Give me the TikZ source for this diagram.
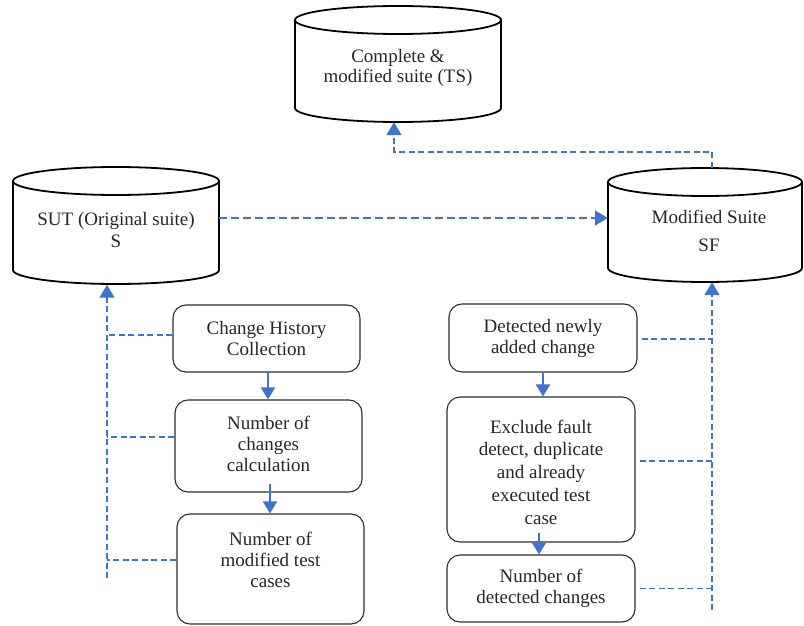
\documentclass[tikz,border=0pt]{standalone}
\usepackage{fontspec}
\setmainfont{Liberation Serif}
\usetikzlibrary{arrows.meta}
\definecolor{flowblue}{RGB}{68,114,196}
\definecolor{edgegray}{RGB}{45,45,45}
\begin{document}
\begin{tikzpicture}[x=1pt,y=-1pt,
 box/.style={draw=edgegray, line width=1.1pt, rounded corners=13pt, inner sep=0pt},
 lbl/.style={align=center, font=\fontsize{19}{21}\selectfont, text=black!85, inner sep=0pt},
 cylline/.style={draw=black, line width=1.8pt},
 area/.style={draw=none, inner sep=0pt},
 flow/.style={draw=flowblue, line width=2.2pt, -{Triangle[length=12pt,width=14pt]}},
 link/.style={draw=flowblue, line width=1.8pt, dash pattern=on 6pt off 3.5pt},
 linkarrow/.style={link, -{Triangle[length=13pt,width=15pt]}},
]
\useasboundingbox (0,0) rectangle (804,626);

% ---------- cylinders ----------
% TS
\draw[cylline] (398,20) ellipse [x radius=103pt, y radius=14pt];
\draw[cylline] (295,20) -- (295,108) arc[start angle=180, end angle=360, x radius=103pt, y radius=14pt] -- (501,20);
\node[area, minimum width=206pt, minimum height=116pt] (ts) at (398,64) {};
\node[lbl, font=\fontsize{19}{20.5}\selectfont] (tst) at (398,68) {Complete \&\\modified suite (TS)};

% SUT
\draw[cylline] (116,181) ellipse [x radius=103pt, y radius=14pt];
\draw[cylline] (13,181) -- (13,270) arc[start angle=180, end angle=360, x radius=103pt, y radius=14pt] -- (219,181);
\node[area, minimum width=206pt, minimum height=118pt] (sut) at (116,225.5) {};
\node[lbl, font=\fontsize{19}{22}\selectfont] (sutt) at (116,230) {SUT (Original suite)\\S};

% SF
\draw[cylline] (705,182) ellipse [x radius=97pt, y radius=14pt];
\draw[cylline] (608,182) -- (608,268) arc[start angle=180, end angle=360, x radius=97pt, y radius=14pt] -- (802,182);
\node[area, minimum width=194pt, minimum height=114pt] (sf) at (705,225) {};
\node[lbl, font=\fontsize{19}{28}\selectfont] (sft) at (709,231) {Modified Suite\\SF};

% ---------- left boxes ----------
\node[box, minimum width=187pt, minimum height=67pt] (b1) at (266.5,338.5) {};
\node[lbl] (t1) at (266.5,338) {Change History\\Collection};
\node[box, minimum width=187pt, minimum height=92pt] (b2) at (268.5,446) {};
\node[lbl] (t2) at (268.5,444) {Number of\\changes\\calculation};
\node[box, minimum width=187pt, minimum height=110pt] (b3) at (270.5,569) {};
\node[lbl] (t3) at (270.5,560) {Number of\\modified test\\cases};

% ---------- right boxes ----------
\node[box, minimum width=188pt, minimum height=68pt] (bA) at (543,338) {};
\node[lbl] (tA) at (543,338) {Detected newly\\added change};
\node[box, minimum width=188pt, minimum height=145pt] (bB) at (541,469.5) {};
\node[lbl, font=\fontsize{19}{22.8}\selectfont] (tB) at (541,472) {Exclude fault\\detect, duplicate\\and already\\executed test\\case};
\node[box, minimum width=188pt, minimum height=67pt] (bC) at (541,588.5) {};
\node[lbl] (tC) at (541,588) {Number of\\detected changes};

% ---------- solid flow arrows ----------
\draw[flow] ([xshift=1.5pt]b1.south) -- ([xshift=1.5pt]b1.south |- b2.north);
\draw[flow] ([xshift=1.5pt,yshift=9pt]b2.south) -- ([xshift=1.5pt]b2.south |- b3.north);
\draw[flow] (bA.south) -- (bA.south |- bB.north);
\draw[flow] ([xshift=-2pt,yshift=10pt]bB.south) -- ([xshift=-2pt]bB.south |- bC.north);

% ---------- dashed links ----------
\coordinate (lbot) at (107,578);
\draw[linkarrow] (lbot) -- (lbot |- sut.south);
\draw[link] ([yshift=3.5pt]b1.west) -- ([yshift=3.5pt]b1.west -| lbot);
\draw[link] ([yshift=9pt]b2.west) -- ([yshift=9pt]b2.west -| lbot);
\draw[link] ([yshift=9pt]b3.west) -- ([yshift=9pt]b3.west -| lbot);

\coordinate (rbot) at (712,610);
\draw[linkarrow] (rbot) -- (rbot |- sf.south);
\draw[link] ([xshift=4pt,yshift=-1pt]bA.east) -- ([yshift=-1pt]bA.east -| rbot);
\draw[link] ([xshift=4pt,yshift=8.5pt]bB.east) -- ([yshift=8.5pt]bB.east -| rbot);
\draw[link] ([xshift=4pt]bC.east) -- (bC.east -| rbot);

\draw[linkarrow, line width=2.2pt, dash pattern=on 8pt off 4pt] ([yshift=7.5pt]sut.east) -- ([yshift=7pt]sf.west);
\draw[linkarrow] ([xshift=7pt]sf.north) -- ++(0,-16) -| ([xshift=-4pt]ts.south);
\end{tikzpicture}
\end{document}
